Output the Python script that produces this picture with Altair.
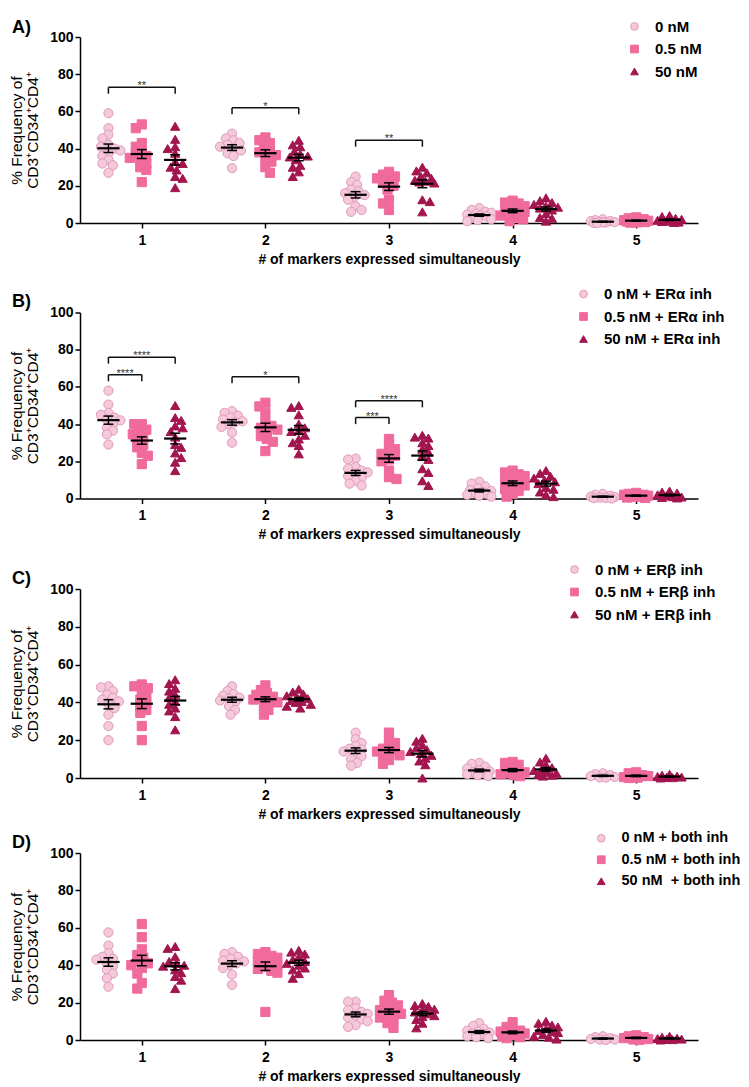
import altair as alt
import pandas as pd

# ---------------- data ----------------
MARKERS = [1, 2, 3, 4, 5]

A_0 = [[59, 51, 47.5, 45.5, 42, 41, 40, 39, 37.5, 36, 34, 32, 31, 27],
       [48, 45.5, 44.5, 43, 42, 41, 40, 39, 37.5, 36, 29.5],
       [25, 22, 20.5, 18, 17, 16, 15, 14, 12.5, 9, 7, 6],
       [8, 7, 6, 5.5, 5, 4.5, 4, 3.5, 3, 2, 1.5, 1],
       [2, 1.5, 1, 1, 0.5, 0.5, 0.3, 0.2, 0, 0]]
A_05 = [[53, 51, 43, 41, 39, 37.5, 36, 35, 34, 32, 30, 28.5, 22],
        [46, 44.5, 43, 41, 39, 38, 36.5, 35, 33, 30, 27],
        [27.5, 26, 25, 24, 23, 21.5, 20, 18, 12.5, 10.5, 7],
        [12, 11, 10.5, 9, 8, 7, 6.5, 6, 5, 4, 3, 2, 1],
        [3, 2.5, 2, 1.5, 1.2, 1, 1, 0.8, 0.5, 0.3, 0.2]]
A_50 = [[52, 45, 41, 40, 37.5, 33, 32, 30, 28.5, 25, 24, 19],
        [44.5, 42, 41, 38.5, 37, 36, 35.5, 34, 31, 30, 27.5, 25],
        [30, 28, 27, 25, 24, 23, 22.5, 22, 21.5, 12.5, 11.5, 6],
        [13.5, 12, 11, 10, 9, 8.5, 8, 7, 5, 3, 2.5, 1],
        [4, 3.5, 2.5, 2, 1.5, 1.2, 1, 0.8, 0.5, 0.3]]

B_0 = [[58, 50.5, 46, 45, 43.5, 42.5, 42, 40, 38, 36.5, 34.5, 29],
       [47, 46, 44.5, 43.5, 42.5, 41.5, 41, 40, 38.5, 35.5, 30],
       [21.5, 21, 17, 16, 15, 14, 13, 12, 11, 9.5, 8, 7],
       [9, 8, 6.5, 5.5, 4.5, 4, 3.5, 3, 2.5, 2, 1.5, 1],
       [2.5, 2, 1.5, 1, 0.8, 0.5, 0.3, 0.2, 0]]
B_05 = [[40, 40, 37, 36, 34.5, 33, 31, 29, 27.5, 24.5, 23, 18.5],
        [51.5, 49.5, 46, 41, 39, 38, 37, 35.5, 33.5, 32, 30.5, 25.5],
        [32, 28.5, 26.5, 25, 24, 23, 21, 20, 15, 11.5, 10.5],
        [15, 14, 13, 12, 10, 9, 8, 7, 6, 5, 4, 2.5, 1],
        [3, 2.5, 2, 2, 1.5, 1, 1, 0.5, 0.3]]
B_50 = [[50, 43.5, 42, 39, 38, 36, 33, 29, 27.5, 24.5, 22, 19.5, 15],
        [50, 49, 45, 40, 38, 36.5, 36, 34, 32, 30, 28.5, 24],
        [34, 33, 32.5, 30, 28.5, 26.5, 25, 23, 21, 16, 14, 9.5, 7],
        [15, 13.5, 12, 11, 10, 9, 8, 6, 5, 3.5, 2, 1],
        [4, 3.5, 3, 2, 1.5, 1, 0.8, 0.5, 0.3]]

C_0 = [[48.5, 48, 46, 44, 42.5, 41.5, 40.5, 39, 37, 33.5, 27.5, 20],
       [48.5, 46, 44.5, 43.5, 42.5, 42, 41, 40, 38, 36, 33.5],
       [24, 20.5, 18.5, 17, 15.5, 15, 14, 13, 11.5, 10, 8, 6.5],
       [8, 7.5, 6, 5, 4, 3.5, 3, 2.5, 2, 1.5, 1],
       [2.5, 2, 1.5, 1, 0.5, 0.3, 0.2]]
C_05 = [[49.5, 48.5, 47.5, 46, 43, 41.5, 39.5, 38, 36, 34.5, 27.5, 20],
        [49, 46.5, 45, 44, 43, 42, 41.5, 41, 40, 38.5, 36, 33.5],
        [24, 20.5, 18.5, 17, 15.5, 15, 14, 13, 12, 11, 9.5, 7.5],
        [8.5, 8, 7, 5, 4, 3.5, 3, 2.5, 2, 1.5, 1],
        [3, 2.5, 1.5, 1, 0.5, 0.3, 0.2, 0]]
C_50 = [[52, 50, 47.5, 46, 44, 42.5, 40.5, 39, 37, 35.5, 32.5, 25.5],
        [47, 45.5, 44.5, 43.5, 42.5, 42, 41, 40.5, 40, 39, 38, 37],
        [21, 19.5, 17.5, 16, 15, 14, 13, 12, 10.5, 9, 7, 0],
        [10.5, 8.5, 7, 5.5, 4.5, 4, 3, 2.5, 2, 1.5, 1],
        [2, 1.5, 1, 0.8, 0.5, 0.3, 0.2, 0]]

D_0 = [[57.5, 50.5, 46.5, 44.5, 43.5, 43, 41, 39.5, 37.5, 35.5, 33, 28.5],
       [47, 46, 44.5, 43.5, 42.5, 42, 41, 40, 38.5, 35, 29.5],
       [20.5, 20.5, 17, 16, 15, 14, 13, 12, 11, 10, 8, 7],
       [9, 7.5, 6, 5, 4.5, 4, 3.5, 3, 2, 1.5, 1],
       [2, 1.5, 1, 0.5, 0.3, 0.2, 0]]
D_05 = [[62, 55, 48.5, 45.5, 44, 42, 41, 40, 38.5, 35.5, 30.5, 27.5],
        [47, 46, 45, 44, 43, 42, 41, 40, 39, 38, 37, 36, 15],
        [24, 21, 20, 18.5, 17, 16, 15, 14, 13, 12, 11, 9, 6.5],
        [9.5, 7, 5.5, 5, 4.5, 4, 3.5, 3, 2.5, 2, 1.5, 1],
        [2.5, 2, 1.5, 1, 0.5, 0.3, 0]]
D_50 = [[50, 49, 44.5, 42, 41, 40, 39.5, 37.5, 36, 34, 32, 27.5],
        [48, 47, 46, 44.5, 43, 42, 41, 40, 38.5, 37.5, 35.5, 33],
        [19.5, 18.5, 18, 16.5, 16, 15, 14, 13, 12.5, 11, 9, 6.5],
        [10, 9, 8, 7, 6, 5, 4.5, 4, 3, 2, 1.5, 0.5],
        [2, 1.5, 1, 0.8, 0.5, 0.3, 0.2, 0]]

LEG_A = ["0 nM", "0.5 nM", "50 nM"]
LEG_B = ["0 nM + ER\u03b1 inh", "0.5 nM + ER\u03b1 inh", "50 nM + ER\u03b1 inh"]
LEG_C = ["0 nM + ER\u03b2 inh", "0.5 nM + ER\u03b2 inh", "50 nM + ER\u03b2 inh"]
LEG_D = ["0 nM + both inh", "0.5 nM + both inh", "50 nM\u00a0 + both inh"]

# significance brackets: panel, marker, from-group, to-group, height, label
BR_PANEL = ["A", "A", "A", "B", "B", "B", "B", "B"]
BR_MARKER = [1, 2, 3, 1, 1, 2, 3, 3]
BR_FROM = [0, 0, 0, 0, 0, 0, 0, 0]
BR_TO = [2, 2, 2, 2, 1, 2, 2, 1]
BR_Y = [73, 62, 44.5, 76, 66.5, 65.5, 52.5, 43.5]
BR_LABEL = ["**", "*", "**", "****", "****", "*", "****", "***"]

# ---------------- styling ----------------
FILLS = ["#f5c8da", "#f06a9c", "#a3154f"]
STROKES = ["#e09abb", "#f06a9c", "#a3154f"]
SHAPES = ["circle", "square", "triangle-up"]
GROUP_OFF = [-0.27, 0.0, 0.27]
WIDTH = 618
XPX = WIDTH / 5.0
FONT = "Liberation Sans"


def swarm(vals, ypx, diam=6.5, step=1.5, maxoff=13.0):
    """deterministic beeswarm offsets (pixels), limited to a band of +-maxoff"""
    order = sorted(range(len(vals)), key=lambda i: -vals[i])
    placed, offs = [], [0.0] * len(vals)
    kmax = int(maxoff / step)
    for n, i in enumerate(order):
        y = vals[i] * ypx
        chosen, best, bestd = None, 0.0, -1.0
        for k in range(kmax + 1):
            if k == 0:
                cands = [0.0]
            else:
                cands = [k * step, -k * step] if n % 2 == 0 else [-k * step, k * step]
            for c in cands:
                d = min([((c - px) ** 2 + (y - py) ** 2) ** 0.5 for px, py in placed] or [99.0])
                if d >= diam:
                    chosen = c
                    break
                if d > bestd:
                    best, bestd = c, d
            if chosen is not None:
                break
        if chosen is None:
            chosen = best
        placed.append((chosen, y))
        offs[i] = chosen
    return offs


def panel(letter, series, labels, height, legx, legy, toff, legfont=15):
    rows = []
    for g, (lab, groups) in enumerate(zip(labels, series)):
        for m, vals in zip(MARKERS, groups):
            offs = swarm(vals, height / 100.0)
            for v, o in zip(vals, offs):
                rows.append(dict(cond=lab, marker=m, pos=m + GROUP_OFF[g],
                                 x=m + GROUP_OFF[g] + o / XPX, val=v))
    df = pd.DataFrame(rows)

    xs = alt.Scale(domain=[0.5, 5.5], nice=False, zero=False)
    ys = alt.Scale(domain=[0, 100], nice=False, zero=True)
    xaxis = alt.Axis(values=MARKERS, title="# of markers expressed simultaneously",
                     labelFontSize=14, labelFontWeight="bold", titleFontSize=14,
                     titleFontWeight="bold", grid=False, tickSize=5, labelPadding=5,
                     titlePadding=5, domainColor="black", tickColor="black",
                     domainWidth=1.5, tickWidth=1.5, labelColor="black",
                     titleColor="black", format="d", labelFlush=False)
    yaxis = alt.Axis(values=[0, 20, 40, 60, 80, 100],
                     title=["% Frequency of", "CD3\u207aCD34\u207aCD4\u207a"],
                     labelFontSize=14, labelFontWeight="bold", titleFontSize=15.5,
                     titleFontWeight="normal", grid=False, tickSize=5, labelPadding=2,
                     titlePadding=9, domainColor="black", tickColor="black",
                     domainWidth=1.5, tickWidth=1.5, labelColor="black",
                     titleColor="black", titleLineHeight=16, labelFlush=False)

    def X(f):
        return alt.X(f, type="quantitative", scale=xs, axis=xaxis)

    def Y(f):
        return alt.Y(f, type="quantitative", scale=ys, axis=yaxis)

    leg = alt.Legend(title=None, orient="none", legendX=legx, legendY=legy,
                     labelFontSize=legfont, labelFontWeight="bold", labelColor="black",
                     labelFont=FONT, symbolSize=60, rowPadding=6.5, labelOffset=13,
                     padding=0, symbolStrokeWidth=1)

    pts = alt.Chart(df).mark_point(filled=True, opacity=1, size=85, strokeWidth=1).encode(
        x=X("x"),
        y=Y("val"),
        color=alt.Color("cond:N", scale=alt.Scale(domain=labels, range=FILLS), legend=leg),
        shape=alt.Shape("cond:N", scale=alt.Scale(domain=labels, range=SHAPES), legend=leg),
        stroke=alt.Stroke("cond:N", scale=alt.Scale(domain=labels, range=STROKES), legend=leg),
    )

    stats = alt.Chart(df).transform_aggregate(
        mean="mean(val)", se="stderr(val)", groupby=["pos"]
    ).transform_calculate(
        lo="datum.mean - datum.se", hi="datum.mean + datum.se",
        a="datum.pos - 0.09", b="datum.pos + 0.09",
        c="datum.pos - 0.04", d="datum.pos + 0.04",
    )
    meanline = stats.mark_rule(color="black", strokeWidth=2.2).encode(
        x=X("a"), x2="b:Q", y=Y("mean"))
    semline = stats.mark_rule(color="black", strokeWidth=1.5).encode(
        x=X("pos"), y=Y("lo"), y2="hi:Q")
    caphi = stats.mark_rule(color="black", strokeWidth=1.5).encode(
        x=X("c"), x2="d:Q", y=Y("hi"))
    caplo = stats.mark_rule(color="black", strokeWidth=1.5).encode(
        x=X("c"), x2="d:Q", y=Y("lo"))

    layers = [pts, semline, caphi, caplo, meanline]

    brows = []
    for p, m, f, t, y, lab in zip(BR_PANEL, BR_MARKER, BR_FROM, BR_TO, BR_Y, BR_LABEL):
        if p == letter:
            x1 = m + GROUP_OFF[f]
            x2 = m + GROUP_OFF[t]
            brows.append(dict(x1=x1, x2=x2, xm=(x1 + x2) / 2, y=y, yd=y - 3.5, label=lab))
    if brows:
        bdf = pd.DataFrame(brows)
        bb = alt.Chart(bdf)
        layers += [
            bb.mark_rule(color="#111", strokeWidth=1.5).encode(
                x=X("x1"), x2="x2:Q", y=Y("y")),
            bb.mark_rule(color="#111", strokeWidth=1.5).encode(
                x=X("x1"), y=Y("yd"), y2="y:Q"),
            bb.mark_rule(color="#111", strokeWidth=1.5).encode(
                x=X("x2"), y=Y("yd"), y2="y:Q"),
            bb.mark_text(fontSize=11, color="#333", baseline="alphabetic", dy=2).encode(
                x=X("xm"), y=Y("y"), text="label:N"),
        ]

    return alt.layer(*layers).properties(
        width=WIDTH, height=height,
        title=alt.TitleParams(letter + ")", anchor="start", frame="group", dx=-68,
                              fontSize=18, fontWeight="bold", offset=toff, color="black",
                              font=FONT),
    )


pA = panel("A", [A_0, A_05, A_50], LEG_A, 186, 547, -18, -18)
pB = panel("B", [B_0, B_05, B_50], LEG_B, 186, 496, -26, -24)
pC = panel("C", [C_0, C_05, C_50], LEG_C, 189, 487, -27, -26)
pD = panel("D", [D_0, D_05, D_50], LEG_D, 187, 514, -22, -21, legfont=14.5)

RES = dict(x="independent", y="independent", color="independent",
           shape="independent", stroke="independent")
top3 = alt.vconcat(pA, pB, pC, spacing=20.5).resolve_scale(**RES)
chart = alt.vconcat(top3, pD, spacing=10).resolve_scale(**RES).properties(
    padding={"left": 1, "top": 11, "right": 0, "bottom": 0}
).configure(font=FONT).configure_view(stroke=None)

chart.save("out.html", embed_options={"renderer": "svg", "actions": False})
